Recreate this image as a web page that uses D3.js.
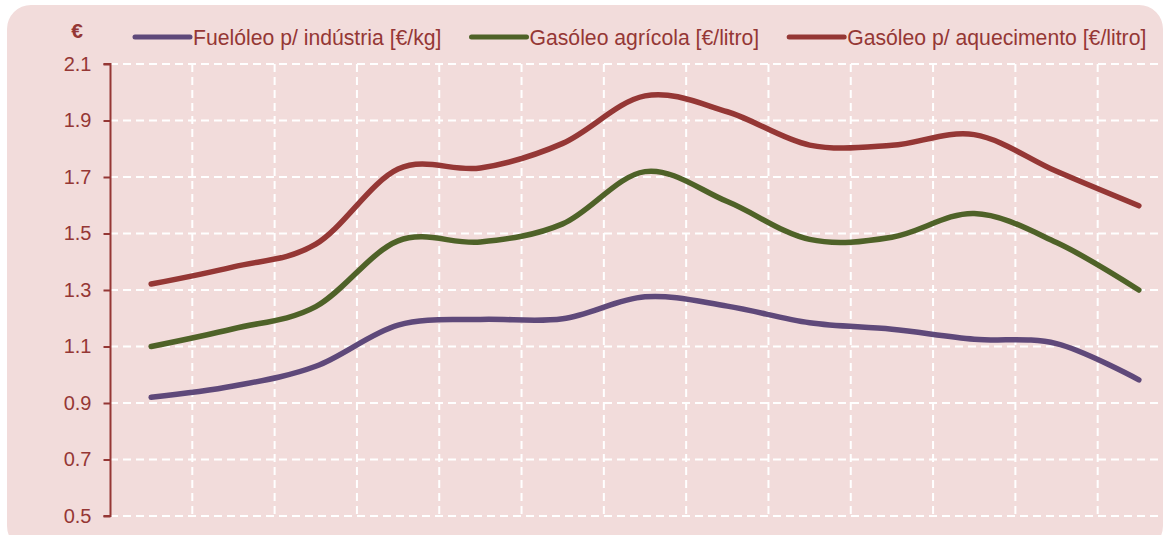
<!DOCTYPE html>
<html>
<head>
<meta charset="utf-8">
<script src="https://cdn.jsdelivr.net/npm/d3@7"></script>
<style>
  body { margin: 0; background: #fff; }
  svg text { font-family: "Liberation Sans", Arial, sans-serif; }
</style>
</head>
<body>
<div id="chart"></div>
<script>
// 13 periods, no labels shown on the x axis
const periods = ['P1', 'P2', 'P3', 'P4', 'P5', 'P6', 'P7', 'P8', 'P9', 'P10', 'P11', 'P12', 'P13'];

const fuelIndustria = [0.92, 0.96, 1.03, 1.176, 1.196, 1.198, 1.276, 1.243, 1.184, 1.161, 1.126, 1.11, 0.982];
const gasoleoAgricola = [1.10, 1.163, 1.241, 1.474, 1.47, 1.534, 1.719, 1.613, 1.479, 1.487, 1.571, 1.468, 1.30];
const gasoleoAquecimento = [1.321, 1.382, 1.462, 1.728, 1.732, 1.819, 1.987, 1.931, 1.813, 1.812, 1.85, 1.72, 1.598];

const seriesNames = ['Fuelóleo p/ indústria [€/kg]', 'Gasóleo agrícola [€/litro]', 'Gasóleo p/ aquecimento [€/litro]'];
const yTicks = [0.5, 0.7, 0.9, 1.1, 1.3, 1.5, 1.7, 1.9, 2.1];

const width = 1164;
const height = 535;
const textColor = '#953735';
const colors = ['#5f497a', '#4f6228', '#953735'];

const series = [fuelIndustria, gasoleoAgricola, gasoleoAquecimento];

let svg = d3.select('#chart')
  .append('svg')
  .attr('width', width)
  .attr('height', height);

// pink panel
svg.append('rect')
  .attr('x', 7)
  .attr('y', 5)
  .attr('width', 1156)
  .attr('height', 545)
  .attr('rx', 24)
  .attr('fill', '#f2dcdb');

let x = d3.scaleBand()
  .domain(periods)
  .range([110, 1180]);

let y = d3.scaleLinear()
  .domain([0.5, 2.1])
  .range([516, 64]);

// grid
let grid = svg.append('g');

grid.selectAll('line.h')
  .data(yTicks)
  .enter()
  .append('line')
  .attr('x1', 110)
  .attr('x2', 1180)
  .attr('y1', d => y(d))
  .attr('y2', d => y(d))
  .attr('stroke', '#fff')
  .attr('stroke-width', 2)
  .attr('stroke-dasharray', '8,5');

grid.selectAll('line.v')
  .data(periods.slice(1))
  .enter()
  .append('line')
  .attr('x1', d => x(d))
  .attr('x2', d => x(d))
  .attr('y1', y(2.1))
  .attr('y2', y(0.5))
  .attr('stroke', '#fff')
  .attr('stroke-width', 2)
  .attr('stroke-dasharray', '8,5');

// y axis
let yAxis = svg.append('g')
  .attr('transform', 'translate(110.5,0)')
  .call(d3.axisLeft(y).tickValues(yTicks).tickFormat(d3.format('.1f')).tickSize(7).tickPadding(12));

yAxis.select('.domain')
  .attr('d', `M-7,${y(2.1)}H0V${y(0.5)}H-7`)
  .attr('stroke', textColor)
  .attr('stroke-width', 2);

yAxis.selectAll('.tick line')
  .attr('stroke', textColor)
  .attr('stroke-width', 2);

yAxis.selectAll('.tick text')
  .attr('fill', textColor)
  .style('font-size', '20px')
  .style('font-family', '"Liberation Sans", Arial, sans-serif');

svg.append('text')
  .attr('x', 77)
  .attr('y', 38)
  .attr('text-anchor', 'middle')
  .attr('fill', textColor)
  .style('font-size', '21px')
  .style('font-weight', 'bold')
  .text('€');

// lines
let line = d3.line()
  .x((d, i) => x(periods[i]) + x.bandwidth() / 2)
  .y(d => y(d))
  .curve(d3.curveCardinal.tension(0));

svg.selectAll('path.series')
  .data(series)
  .enter()
  .append('path')
  .classed('series', true)
  .attr('d', d => line(d))
  .attr('fill', 'none')
  .attr('stroke', (d, i) => colors[i])
  .attr('stroke-width', 5.5)
  .attr('stroke-linecap', 'round')
  .attr('stroke-linejoin', 'round');

// legend
let legendX = 135;
seriesNames.forEach((name, i) => {
  let g = svg.append('g').attr('transform', `translate(${legendX},37)`);
  g.append('line')
    .attr('x1', 0)
    .attr('x2', 55)
    .attr('y1', 0)
    .attr('y2', 0)
    .attr('stroke', colors[i])
    .attr('stroke-width', 5)
    .attr('stroke-linecap', 'round');
  let t = g.append('text')
    .attr('x', 58)
    .attr('y', 7.5)
    .attr('fill', textColor)
    .style('font-size', '21.2px')
    .text(name);
  legendX += 58 + t.node().getComputedTextLength() + 30;
});
</script>
</body>
</html>
